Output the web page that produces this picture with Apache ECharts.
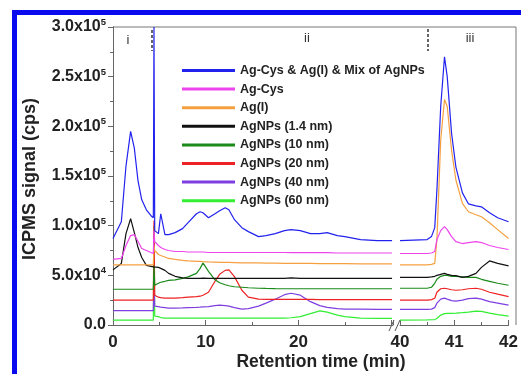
<!DOCTYPE html>
<html>
<head>
<meta charset="utf-8">
<script src="https://cdn.jsdelivr.net/npm/echarts@6/dist/echarts.min.js"></script>
<style>
  html, body { margin: 0; padding: 0; background: #fff; }
  #chart { width: 521px; height: 374px; }
</style>
</head>
<body>
<div id="chart"></div>
<script>
const seriesNames = [
  "Ag-Cys & Ag(I) & Mix of AgNPs",
  "Ag-Cys",
  "Ag(I)",
  "AgNPs (1.4 nm)",
  "AgNPs (10 nm)",
  "AgNPs (20 nm)",
  "AgNPs (40 nm)",
  "AgNPs (60 nm)"
];
const seriesColors = ["#2222ee", "#ee44ee", "#f5a040", "#111111", "#1a8a1a", "#ee2222", "#7f3fe0", "#33ee33"];

// retention time (min), segment 0-30 and segment 40-42
const leftTimes = [0, 0.9, 1.4, 1.9, 2.3, 2.7, 3.1, 3.6, 4.1, 4.35,
  4.42, 4.5, 4.9, 5.15, 5.6, 6.0, 6.7, 7.5, 8.1, 9.0,
  9.4, 9.7, 10.3, 11.0, 11.5, 12.1, 12.5, 13.1, 13.9, 14.6,
  15.7, 16.5, 17.5, 18.5, 19.2, 20.2, 21.3, 22.3, 23.1, 24.2,
  25.0, 26.7, 28.5, 30.1];
const rightTimes = [40, 40.5, 40.58, 40.64, 40.68, 40.75, 40.82, 40.87, 40.95, 41.03, 41.15, 41.26, 41.4, 41.5, 41.65, 41.8, 42];
const leftTicks = [0, 10, 20];

// signal in 10^3 cps
const mixLeft = [87, 104, 160, 195, 178, 145, 126, 116, 110, 108,
  300, 95, 92, 112, 91, 91, 93, 97, 103, 112,
  114, 113, 108, 112, 115, 118, 116, 106, 98, 94,
  89, 90, 92, 95, 96, 95, 92, 92, 93, 90,
  89, 86, 85, 85];
const agCysLeft = [66, 67, 80, 90, 91, 84, 77, 75, 73, 72,
  95, 84, 80, 78, 76, 75, 74, 74, 73.5, 73.5,
  73.5, 73.5, 73, 73, 73, 73, 73, 73, 73, 73,
  73, 73, 73, 73, 72.8, 72.8, 72.8, 72.8, 72.8, 72.5,
  72.5, 72.5, 72.5, 72.5];
const agILeft = [60.5, 60.5, 60.5, 60.5, 60.5, 60.5, 60.5, 60.5, 60.5, 60.5,
  80, 75, 71, 70, 68.5, 67, 66, 65, 64.5, 64,
  64, 63.8, 63.5, 63.3, 63, 63, 63, 62.8, 62.5, 62.5,
  62.5, 62.3, 62.2, 62, 62, 62, 62, 61.8, 61.8, 61.7,
  61.7, 61.5, 61.5, 61.5];
const np14Left = [55.5, 62, 92, 107, 93, 78, 68, 60, 59, 58.5,
  60, 57, 58, 57, 55, 52, 49, 47.5, 47, 47,
  47, 47.2, 47, 47, 47, 47, 47, 47, 47, 47,
  47, 47, 47, 47, 47.5, 47, 47, 47, 47, 47,
  47, 47, 47, 47];
const np10Left = [36, 36, 36, 36, 36, 36, 36, 36, 36, 36,
  60, 40, 42, 43, 44, 45, 45.5, 47, 48.5, 52,
  57, 62.5, 54, 45.5, 42.5, 40.5, 39.5, 38.5, 38, 37.5,
  37, 36.8, 36.6, 36.5, 36.5, 36.5, 36.5, 36.5, 36.5, 36.5,
  36.5, 36.5, 36.5, 36.5];
const np20Left = [25, 25, 25, 25, 25, 25, 25, 25, 25, 25,
  105, 30, 28, 27.5, 27, 27, 27, 27.5, 28, 28.5,
  29, 30, 33, 44, 51, 55, 55.5, 48.7, 35, 28,
  26, 25.8, 25.7, 25.7, 25.7, 25.7, 25.7, 25.6, 25.6, 25.6,
  25.5, 25.5, 25.5, 25.5];
const np40Left = [14.4, 14.4, 14.4, 14.4, 14.4, 14.4, 14.4, 14.4, 14.4, 14.4,
  50, 19, 18.5, 18, 17.5, 17, 17, 17.2, 17.5, 17.8,
  18, 18.2, 18.5, 19.5, 20, 19.5, 19, 17.5, 16, 16.5,
  19, 22, 26, 30.5, 32, 30, 23.5, 19.5, 17.8, 16.5,
  16, 16, 15.8, 15.8];
const np60Left = [5, 5, 5, 5, 5, 5, 5, 5, 5, 5,
  100, 9, 8.4, 7.5, 7, 7, 7, 7, 7, 7,
  7, 7, 7, 7, 7, 7, 7, 7, 7, 7,
  7, 7, 7, 7, 7.3, 8.4, 11.5, 14.2, 13, 10,
  8.5, 7, 6.7, 6.7];

const mixRight = [85, 86, 89, 98, 136, 220, 270, 250, 193, 159, 133, 122, 120, 119, 113, 108, 104];
const agCysRight = [72, 72, 72.5, 74, 86, 95, 99, 96, 89, 84, 82, 83, 84, 83, 80, 78, 76];
const agIRight = [60.5, 60.5, 61, 62, 86, 186, 227, 220, 176, 146, 122.5, 114, 111, 109, 103, 96, 87];
const np14Right = [48, 48, 48.5, 49, 50, 51, 52, 51, 50, 49.7, 48, 49, 52, 58, 64.5, 62, 59.5];
const np10Right = [37, 37, 38, 42, 46, 49, 50, 50, 49, 49, 48.5, 48, 48, 46, 44, 42, 40];
const np20Right = [25, 25, 25.5, 27, 33, 36.5, 37, 36.5, 35.5, 35, 35.5, 36.5, 37, 36, 33, 31, 28.5];
const np40Right = [15.8, 15.8, 16, 17.5, 22, 26, 27, 26, 24.5, 24, 25, 26.5, 27, 26, 23.5, 22, 20];
const np60Right = [5, 5.2, 5.3, 5.5, 6.5, 10, 11.5, 11.7, 11.7, 12, 12.5, 13, 14, 13.8, 12, 10.5, 9];

const leftValues = [mixLeft, agCysLeft, agILeft, np14Left, np10Left, np20Left, np40Left, np60Left];
const rightValues = [mixRight, agCysRight, agIRight, np14Right, np10Right, np20Right, np40Right, np60Right];

const font = "'Liberation Sans', Arial, sans-serif";
const chart = echarts.init(document.getElementById("chart"));

function pairs(times, vals) {
  return times.map((t, i) => [t, vals[i] * 1000]);
}

const series = [];
// draw last legend entry first so the mix trace ends on top
for (let k = seriesNames.length - 1; k >= 0; k--) {
  [[leftTimes, leftValues[k], 0], [rightTimes, rightValues[k], 1]].forEach(([t, v, g]) => {
    series.push({
      name: seriesNames[k],
      type: "line",
      xAxisIndex: g,
      yAxisIndex: g,
      data: pairs(t, v),
      symbol: "none",
      clip: true,
      color: seriesColors[k],
      lineStyle: { width: 1.2, color: seriesColors[k] }
    });
  });
}

function yLabel(v) {
  if (v === 0) return "{m|0.0}";
  const e = Math.floor(Math.log10(v) + 1e-9);
  return "{m|" + (v / Math.pow(10, e)).toFixed(1) + "x10}{sup|" + e + "}";
}

const tickStyle = { color: "#666" };
const labelFont = { fontFamily: font, fontSize: 17, fontWeight: "bold", color: "#222" };

chart.setOption({
  animation: false,
  backgroundColor: "#fff",
  grid: [
    { left: 113, top: 27, width: 280, height: 298 },
    { left: 400, top: 27, width: 116, height: 298 }
  ],
  legend: {
    data: seriesNames,
    orient: "vertical",
    left: 182,
    top: 63,
    padding: 0,
    icon: "rect",
    itemWidth: 53,
    itemHeight: 3,
    itemGap: 3.6,
    textStyle: { fontFamily: font, fontSize: 12.5, fontWeight: "bold", color: "#222", lineHeight: 15 }
  },
  xAxis: [
    {
      type: "value", gridIndex: 0, min: 0, max: 30.2, interval: 10,
      splitLine: { show: false },
      axisLine: { lineStyle: tickStyle },
      axisTick: { inside: true, length: 5, lineStyle: tickStyle },
      minorTick: { show: true, splitNumber: 2, length: 3, lineStyle: tickStyle },
      axisLabel: Object.assign({ margin: 9, formatter: (v) => leftTicks.includes(v) ? String(v) : "" }, labelFont)
    },
    {
      type: "value", gridIndex: 1, min: 40, max: 42, interval: 1,
      splitLine: { show: false },
      axisLine: { lineStyle: tickStyle },
      axisTick: { inside: true, length: 5, lineStyle: tickStyle },
      minorTick: { show: true, splitNumber: 2, length: 3, lineStyle: tickStyle },
      axisLabel: Object.assign({ margin: 9 }, labelFont)
    }
  ],
  yAxis: [
    {
      type: "value", gridIndex: 0, min: 0, max: 300000, interval: 50000,
      splitLine: { show: false },
      axisLine: { show: true, lineStyle: tickStyle },
      axisTick: { show: true, length: 5, lineStyle: tickStyle },
      minorTick: { show: true, splitNumber: 2, length: 3, lineStyle: tickStyle },
      axisLabel: {
        margin: 7, formatter: yLabel,
        rich: {
          m: { fontFamily: font, fontSize: 16, fontWeight: "bold", color: "#222", lineHeight: 19 },
          sup: { fontFamily: font, fontSize: 9.5, fontWeight: "bold", color: "#222", verticalAlign: "top", lineHeight: 19 }
        }
      }
    },
    { type: "value", gridIndex: 1, min: 0, max: 300000, show: false, splitLine: { show: false } }
  ],
  graphic: [
    { type: "rect", shape: { x: 12, y: 10, width: 509, height: 5 }, style: { fill: "#0a0aee" } },
    { type: "rect", shape: { x: 12, y: 10, width: 5, height: 364 }, style: { fill: "#0a0aee" } },
    { type: "polyline", shape: { points: [[113, 27], [516, 27], [516, 325]] }, style: { stroke: "#777", fill: null, lineWidth: 1 } },
    { type: "rect", shape: { x: 393, y: 320, width: 7, height: 10 }, style: { fill: "#fff" } },
    { type: "line", shape: { x1: 389, y1: 331, x2: 394, y2: 320 }, style: { stroke: "#555", lineWidth: 1 } },
    { type: "line", shape: { x1: 395, y1: 331, x2: 400, y2: 320 }, style: { stroke: "#555", lineWidth: 1 } },
    { type: "line", shape: { x1: 152, y1: 30, x2: 152, y2: 51 }, style: { stroke: "#333", lineWidth: 1.5, lineDash: [3, 2] } },
    { type: "line", shape: { x1: 428, y1: 29, x2: 428, y2: 51 }, style: { stroke: "#333", lineWidth: 1.5, lineDash: [3, 2] } },
    { type: "text", x: 128, y: 40, style: { text: "i", font: "13px " + font, fill: "#333", align: "center", verticalAlign: "middle" } },
    { type: "text", x: 307, y: 38, style: { text: "ii", font: "13px " + font, fill: "#333", align: "center", verticalAlign: "middle" } },
    { type: "text", x: 470, y: 38, style: { text: "iii", font: "13px " + font, fill: "#333", align: "center", verticalAlign: "middle" } },
    { type: "text", x: 321, y: 362, style: { text: "Retention time (min)", font: "bold 17.5px " + font, fill: "#222", align: "center", verticalAlign: "middle" } },
    { type: "text", x: 30, y: 179, rotation: Math.PI / 2, style: { text: "ICPMS signal (cps)", font: "bold 18px " + font, fill: "#222", align: "center", verticalAlign: "middle" } }
  ],
  series: series
});
</script>
</body>
</html>
